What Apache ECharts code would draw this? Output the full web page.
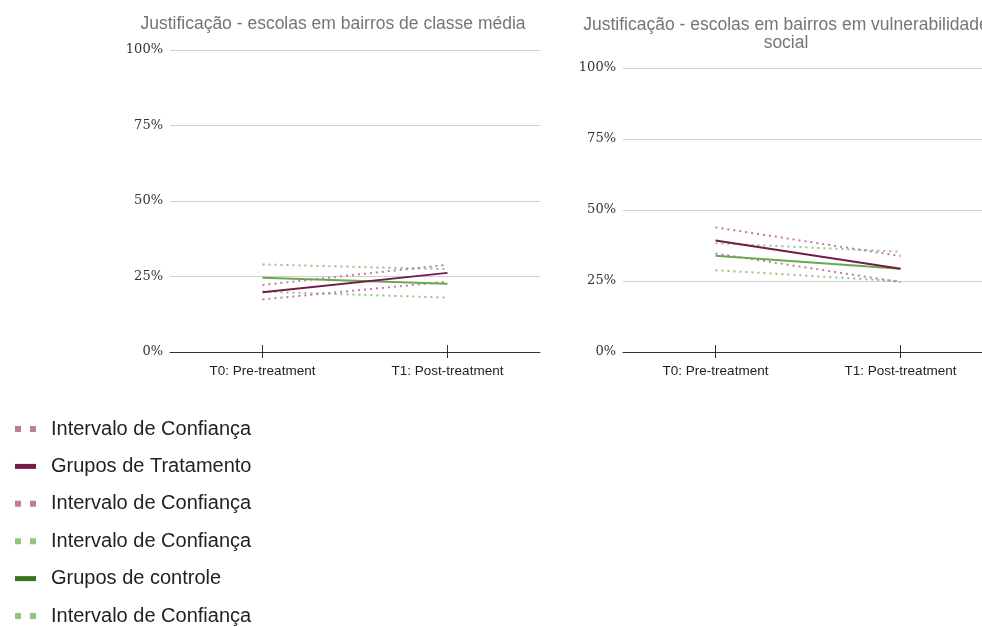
<!DOCTYPE html>
<html>
<head>
<meta charset="utf-8">
<script src="https://cdn.jsdelivr.net/npm/echarts@6/dist/echarts.min.js"></script>
<style>html,body{margin:0;padding:0;background:#fff;overflow:hidden}#c{width:1000px;height:627px}</style>
</head>
<body>
<div id="c"></div>
<script>
const categories = ['T0: Pre-treatment', 'T1: Post-treatment'];
const yTicks = [0, 25, 50, 75, 100];
const titleLeft = 'Justificação - escolas em bairros de classe média';
const titleRight = 'Justificação - escolas em bairros em vulnerabilidade\nsocial';
const seriesNames = ['Intervalo de Confiança', 'Grupos de Tratamento', 'Intervalo de Confiança\u200b', 'Intervalo de Confiança\u200b\u200b', 'Grupos de controle', 'Intervalo de Confiança\u200b\u200b\u200b'];
// Middle-class schools
const midTreatUpper = [22.2, 28.9];
const midTreat = [19.8, 26.2];
const midTreatLower = [17.4, 23.3];
const midCtrlUpper = [29.0, 27.4];
const midCtrl = [24.6, 22.6];
const midCtrlLower = [20.0, 18.0];
// Vulnerable-area schools
const vulTreatUpper = [43.9, 33.8];
const vulTreat = [39.3, 29.3];
const vulTreatLower = [34.7, 24.6];
const vulCtrlUpper = [38.3, 35.3];
const vulCtrl = [33.9, 29.3];
const vulCtrlLower = [28.8, 24.9];

const PINK = '#c27ba0', TREAT = '#741b47', LGREEN = '#93c47d', CTRL_LEG = '#38761d', CTRL = '#6aa84f';
const styles = [
  {color: PINK, line: PINK, type: [2, 4], width: 2},
  {color: TREAT, line: TREAT, type: 'solid', width: 2},
  {color: PINK, line: PINK, type: [2, 4], width: 2},
  {color: LGREEN, line: LGREEN, type: [2, 4], width: 2},
  {color: CTRL_LEG, line: CTRL, type: 'solid', width: 2},
  {color: LGREEN, line: LGREEN, type: [2, 4], width: 2}
];
const midData = [midTreatUpper, midTreat, midTreatLower, midCtrlUpper, midCtrl, midCtrlLower];
const vulData = [vulTreatUpper, vulTreat, vulTreatLower, vulCtrlUpper, vulCtrl, vulCtrlLower];
const drawOrder = [3, 5, 0, 2, 4, 1];

const grids = [
  {left: 170, top: 50, width: 370, height: 302},
  {left: 623, top: 68, width: 370, height: 284}
];
const xAxes = [], yAxes = [];
grids.forEach((g, i) => {
  xAxes.push({type: 'category', data: categories, gridIndex: i, boundaryGap: true,
    axisLine: {show: true, lineStyle: {color: '#333', width: 1}},
    axisTick: {show: true, alignWithLabel: true, length: 6, lineStyle: {color: '#333'}},
    axisLabel: {color: '#222', fontSize: 13.5, fontFamily: 'Liberation Sans', margin: 12},
    splitLine: {show: false}});
  xAxes.push({type: 'category', data: categories, gridIndex: i, position: 'bottom', boundaryGap: true,
    axisLine: {show: false},
    axisTick: {show: true, inside: true, alignWithLabel: true, length: 7, lineStyle: {color: '#333'}},
    axisLabel: {show: false}, splitLine: {show: false}});
  yAxes.push({type: 'value', gridIndex: i, min: 0, max: 100, interval: 25,
    axisLine: {show: false}, axisTick: {show: false},
    axisLabel: {color: '#333', fontSize: 13, fontFamily: 'DejaVu Serif', margin: 7, formatter: v => v + '%'},
    splitLine: {lineStyle: {color: '#d0d0d0', width: 1}}});
});

const series = [];
[midData, vulData].forEach((dataSet, gi) => {
  drawOrder.forEach(k => {
    const s = styles[k];
    series.push({type: 'line', name: seriesNames[k], xAxisIndex: gi * 2, yAxisIndex: gi,
      data: dataSet[k], symbol: 'none', silent: true, z: 2 + (s.type === 'solid' ? 1 : 0),
      itemStyle: {color: s.color},
      lineStyle: {color: s.line, width: s.width, type: s.type}});
  });
});

const dotIcon = 'path://M0,0h6v6h-6z M15,0h6v6h-6z';
const barIcon = 'path://M0,0.5h21v5h-21z';
const chart = echarts.init(document.getElementById('c'));
chart.setOption({
  animation: false,
  title: [
    {text: titleLeft, left: 328, top: 10, textAlign: 'center',
      textStyle: {color: '#757575', fontSize: 17.5, fontWeight: 'normal', fontFamily: 'Liberation Sans'}},
    {text: titleRight, left: 781, top: 11, textAlign: 'center',
      textStyle: {color: '#757575', fontSize: 17.5, fontWeight: 'normal', fontFamily: 'Liberation Sans', lineHeight: 18}}
  ],
  grid: grids,
  xAxis: xAxes,
  yAxis: yAxes,
  legend: {orient: 'vertical', left: 15, top: 419, height: 208, padding: 0, itemWidth: 21, itemHeight: 6, itemGap: 17.4,
    selectedMode: false,
    formatter: n => n.replace(/\u200b/g, ''),
    textStyle: {color: '#222', fontSize: 20, fontFamily: 'Liberation Sans', lineHeight: 20, padding: [0, 0, 0, 10]},
    data: seriesNames.map((n, k) => ({name: n, icon: styles[k].type === 'solid' ? barIcon : dotIcon,
      itemStyle: {color: styles[k].color}}))},
  series: series
});
</script>
</body>
</html>
